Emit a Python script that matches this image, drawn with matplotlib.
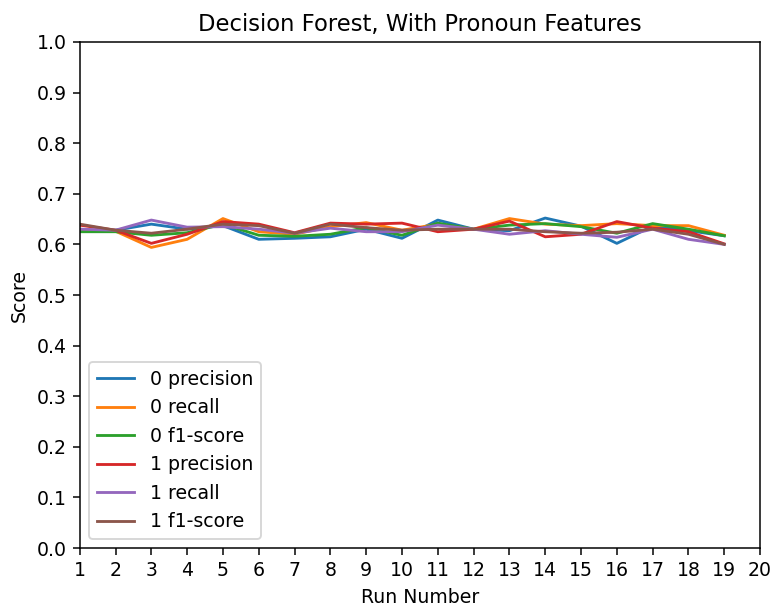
import matplotlib
matplotlib.use("Agg")
import matplotlib.pyplot as plt
import numpy as np

runs = list(range(1, 20))

# per-run scores for each class / metric
prec_0 = [0.627, 0.628, 0.640, 0.630, 0.637, 0.610, 0.612, 0.615, 0.630, 0.612,
          0.648, 0.630, 0.627, 0.652, 0.636, 0.602, 0.636, 0.627, 0.617]
rec_0 = [0.630, 0.626, 0.594, 0.610, 0.651, 0.625, 0.620, 0.635, 0.643, 0.628,
         0.640, 0.630, 0.651, 0.640, 0.637, 0.641, 0.637, 0.637, 0.618]
f1_0 = [0.625, 0.625, 0.618, 0.623, 0.640, 0.618, 0.616, 0.620, 0.633, 0.618,
        0.642, 0.630, 0.638, 0.641, 0.635, 0.622, 0.641, 0.630, 0.617]
prec_1 = [0.638, 0.628, 0.602, 0.620, 0.645, 0.640, 0.623, 0.642, 0.640, 0.642,
          0.625, 0.630, 0.646, 0.615, 0.620, 0.645, 0.632, 0.625, 0.601]
rec_1 = [0.630, 0.628, 0.648, 0.634, 0.635, 0.630, 0.622, 0.632, 0.625, 0.625,
         0.638, 0.630, 0.620, 0.627, 0.620, 0.614, 0.630, 0.610, 0.600]
f1_1 = [0.640, 0.628, 0.622, 0.630, 0.640, 0.637, 0.622, 0.640, 0.633, 0.628,
        0.630, 0.630, 0.630, 0.625, 0.622, 0.624, 0.630, 0.620, 0.600]

series = [
    ("0 precision", prec_0),
    ("0 recall", rec_0),
    ("0 f1-score", f1_0),
    ("1 precision", prec_1),
    ("1 recall", rec_1),
    ("1 f1-score", f1_1),
]

DPI = 136
fig, ax = plt.subplots(figsize=(774 / DPI, 607 / DPI), dpi=DPI)
fig.subplots_adjust(left=0.103, right=0.982, top=0.931, bottom=0.097)

for label, vals in series:
    ax.plot(runs, vals, label=label)

ax.set_xlim(1, 20)
ax.set_ylim(0, 1)
ax.set_xticks(range(1, 21))
ax.set_yticks(np.arange(0, 1.01, 0.1))
ax.set_xlabel("Run Number")
ax.set_ylabel("Score")
ax.set_title("Decision Forest, With Pronoun Features")
ax.legend(loc="lower left")

fig.savefig("out.png", dpi=DPI)
